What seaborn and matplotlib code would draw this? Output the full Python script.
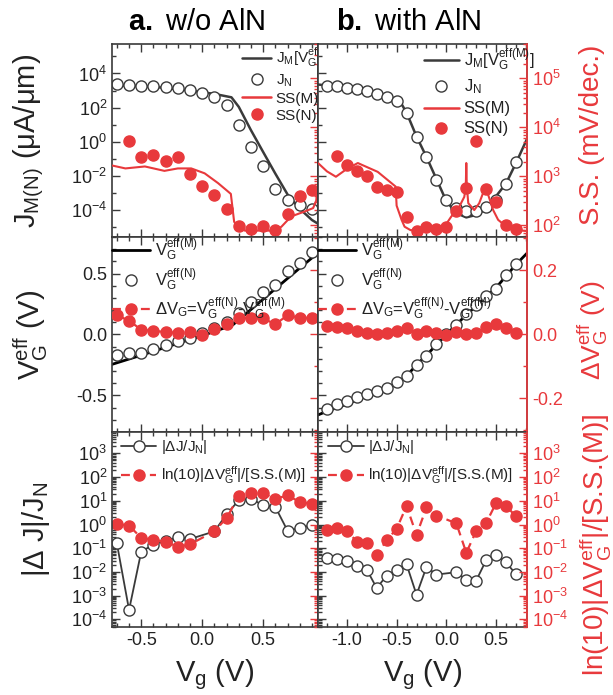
import numpy as np
import matplotlib
matplotlib.use("Agg")
import matplotlib.pyplot as plt
import matplotlib.ticker as ticker
from matplotlib.lines import Line2D
import seaborn as sns

# ---------------- data ----------------
# gate voltages (V)
vg_a = [-0.7, -0.6, -0.5, -0.4, -0.3, -0.2, -0.1, 0.0, 0.1, 0.2, 0.3, 0.4, 0.5, 0.6, 0.7, 0.8, 0.9]
vg_b = [-1.2, -1.1, -1.0, -0.9, -0.8, -0.7, -0.6, -0.5, -0.4, -0.3, -0.2, -0.1, 0.0,
        0.1, 0.2, 0.3, 0.4, 0.5, 0.6, 0.7]

# top row: current (log10 uA/um) and S.S. (log10 mV/dec)
jn_a_log = [3.37, 3.35, 3.29, 3.25, 3.2, 3.12, 3.02, 2.88, 2.63, 2.14, 1.0, -0.31, -1.45,
            -2.8, -3.45, -3.73, -3.94]
jm_a_vg = [-0.74, -0.4, -0.1, 0.1, 0.24, 0.3, 0.4, 0.5, 0.6, 0.7, 0.8, 0.9, 0.95]
jm_a_log = [3.33, 3.22, 3.0, 2.8, 2.6, 2.04, 0.67, -0.61, -1.88, -3.1, -3.94, -4.6, -4.82]
ssn_a_vg = [-0.6, -0.5, -0.4, -0.3, -0.2, -0.1, 0.0, 0.1, 0.2, 0.3, 0.4, 0.5, 0.6, 0.7, 0.8, 0.9]
ssn_a_log = [3.71, 3.39, 3.43, 3.32, 3.39, 3.05, 2.80, 2.62, 2.33, 1.99, 1.92, 1.99, 1.90,
             2.23, 2.60, 2.71]
ssm_a_vg = [-0.74, -0.63, -0.47, -0.31, -0.2, -0.09, 0.02, 0.13, 0.235, 0.262, 0.295, 0.35,
            0.6, 0.65, 0.73, 0.84, 0.91, 0.935, 0.95]
ssm_a_log = [3.22, 3.16, 3.20, 3.11, 3.16, 3.16, 3.06, 2.86, 2.64, 2.07, 1.97, 1.89,
             1.89, 1.97, 2.18, 2.28, 2.35, 2.5, 2.85]

jn_b_log = [3.29, 3.24, 3.16, 3.06, 2.96, 2.81, 2.61, 2.41, 1.66, 0.25, -0.92, -2.24, -3.41,
            -3.9, -4.1, -4.1, -3.86, -3.4, -2.49, -1.22]
jm_b_vg = [-1.29, -1.2, -1.0, -0.8, -0.6, -0.5, -0.45, -0.4, -0.3, -0.2, -0.1, 0.0, 0.1,
           0.2, 0.3, 0.4, 0.5, 0.6, 0.7, 0.81]
jm_b_log = [3.35, 3.3, 3.18, 2.98, 2.7, 2.45, 2.2, 1.7, 0.3, -0.9, -2.2, -3.5, -4.2,
            -4.45, -4.3, -3.95, -3.2, -2.45, -1.25, 0.16]
ssn_b_vg = vg_b[1:]
ssn_b_log = [3.41, 3.22, 3.11, 3.01, 2.79, 2.72, 2.67, 2.16, 1.89, 1.97, 1.92, 1.97, 2.30,
             2.77, 3.71, 2.73, 2.48, 2.01, 1.92]
ssm_b_vg = [-1.29, -1.2, -1.11, -1.0, -0.89, -0.69, -0.51, -0.5, -0.45, -0.42, -0.36, -0.1,
            -0.02, 0.05, 0.13, 0.18, 0.195, 0.2, 0.205, 0.22, 0.28, 0.33, 0.38, 0.4, 0.42,
            0.47, 0.52, 0.58, 0.72, 0.81]
ssm_b_log = [3.27, 3.1, 2.99, 3.15, 3.27, 3.09, 2.79, 2.4, 2.11, 1.97, 1.90, 1.89,
             1.97, 2.18, 2.38, 2.58, 2.8, 3.27, 2.8, 2.45, 2.31, 2.45, 2.72, 2.76, 2.62,
             2.31, 2.11, 2.01, 1.90, 1.88]

# middle row: effective gate voltage (V) and its difference (V)
veffn_a = [-0.167, -0.151, -0.151, -0.118, -0.088, -0.055, -0.027, 0.01, 0.05, 0.10, 0.18,
           0.27, 0.35, 0.41, 0.52, 0.59, 0.68]
veffm_a_vg = [-0.74, -0.5, -0.3, -0.1, 0.0, 0.1, 0.2, 0.25, 0.4, 0.5, 0.6, 0.7, 0.8, 0.95]
veffm_a = [-0.245, -0.17, -0.105, -0.04, -0.01, 0.025, 0.06, 0.078, 0.205, 0.29, 0.375,
           0.46, 0.545, 0.67]
dvg_a = [0.059, 0.042, 0.014, 0.01, 0.007, 0.004, 0.007, -0.003, 0.016, 0.031, 0.051,
         0.051, 0.049, 0.031, 0.059, 0.051, 0.051]

veffn_b = [-0.61, -0.568, -0.544, -0.516, -0.489, -0.467, -0.439, -0.393, -0.343, -0.247,
           -0.173, -0.082, 0.0, 0.082, 0.165, 0.239, 0.316, 0.376, 0.486, 0.577]
veffm_b_vg = [-1.29, -1.2, -1.0, -0.8, -0.6, -0.5, -0.4, -0.3, -0.2, -0.1, 0.0, 0.1, 0.2,
              0.3, 0.4, 0.5, 0.6, 0.7, 0.81]
veffm_b = [-0.66, -0.63, -0.57, -0.505, -0.45, -0.40, -0.34, -0.25, -0.17, -0.085, 0.0,
           0.082, 0.16, 0.235, 0.31, 0.385, 0.48, 0.575, 0.667]
dvg_b = [0.025, 0.022, 0.018, 0.011, 0.005, 0.0, 0.004, 0.01, 0.018, -0.001, 0.011, 0.004,
         -0.003, 0.007, 0.002, 0.003, 0.022, 0.032, 0.018, 0.004]

# bottom row: relative errors (log10), Vg = 0 has no point
vgr_a = [-0.7, -0.6, -0.5, -0.4, -0.3, -0.2, -0.1, 0.1, 0.2, 0.3, 0.4, 0.5, 0.6, 0.7, 0.8, 0.9]
dj_a_log = [-0.80, -3.60, -1.14, -0.85, -0.68, -0.54, -0.61, -0.29, 0.43, 1.02, 1.09, 0.81,
            0.74, -0.26, -0.15, -0.02]
ratio_a_log = [0.02, -0.05, -0.56, -0.66, -0.72, -0.94, -0.84, -0.28, 0.27, 1.2, 1.31, 1.31,
               1.08, 1.23, 0.95, 0.86]
vgr_b = [-1.2, -1.1, -1.0, -0.9, -0.8, -0.7, -0.6, -0.5, -0.4, -0.3, -0.2, -0.1,
         0.1, 0.2, 0.3, 0.4, 0.5, 0.6, 0.7]
dj_b_log = [-1.4, -1.45, -1.55, -1.75, -1.9, -2.68, -2.15, -1.92, -1.68, -2.96, -1.79, -2.11,
            -2.01, -2.33, -2.36, -1.5, -1.3, -1.6, -2.1]
ratio_b_log = [-0.23, -0.16, -0.27, -0.72, -0.77, -1.29, -0.66, -0.18, 0.78, -0.44, 0.72,
               0.38, 0.05, -1.19, -0.27, 0.07, 0.91, 0.78, 0.34]

# ---------------- style ----------------
sns.set_theme(style="ticks")
plt.rcParams["font.family"] = ["Liberation Sans", "DejaVu Sans"]
plt.rcParams["mathtext.fontset"] = "custom"
plt.rcParams["mathtext.rm"] = "Liberation Sans"
plt.rcParams["mathtext.it"] = "Liberation Sans:italic"
plt.rcParams["mathtext.bf"] = "Liberation Sans:bold"
plt.rcParams["axes.unicode_minus"] = False

RED = "#e8393c"
GREY = "#3a3a3a"
TXT = "#222222"
DASH = (0, (4, 2.5))
MS = 8


def p10(v):
    return np.power(10.0, v)


def line(ax, x, y, **kw):
    sns.lineplot(x=x, y=y, ax=ax, estimator=None, sort=False, legend=False, **kw)


def pts(ax, x, y, open_=False, **kw):
    if open_:
        kw.update(markerfacecolor="white", markeredgecolor=GREY, color=GREY)
    else:
        kw.update(markerfacecolor=RED, markeredgecolor=RED, color=RED)
    line(ax, x, y, marker="o", markersize=MS, markeredgewidth=1.0, **kw)


def log_fmt(step):
    def f(v, pos):
        if v <= 0:
            return ""
        e = int(round(np.log10(v)))
        if abs(np.log10(v) - e) > 1e-6 or e % step:
            return ""
        return r"$\mathregular{10^{%d}}$" % e
    return ticker.FuncFormatter(f)


fig = plt.figure(figsize=(6.13, 6.95), dpi=100)
W, H = 613.0, 695.0
col_x = {"a": (112, 206), "b": (318, 209)}
row_y = [(44, 193), (237, 195), (432, 195)]


def make(col, row):
    x0, w = col_x[col]
    y0, h = row_y[row]
    ax = fig.add_axes([x0 / W, 1 - (y0 + h) / H, w / W, h / H])
    ax.set_facecolor("white")
    tw = ax.twinx()
    for s in ax.spines.values():
        s.set_color(GREY)
        s.set_linewidth(1.2)
    for k in ("left", "top", "bottom"):
        tw.spines[k].set_visible(False)
    tw.spines["right"].set_color(RED if col == "b" else GREY)
    tw.spines["right"].set_linewidth(1.2)
    ax.tick_params(which="both", direction="in", top=True, right=False,
                   color=GREY, labelcolor=TXT, labelsize=13, width=1)
    ax.tick_params(which="major", length=6)
    ax.tick_params(which="minor", length=3)
    tw.tick_params(which="both", direction="in", color=RED, labelcolor=RED,
                   labelsize=13, width=1)
    tw.tick_params(which="major", length=6)
    tw.tick_params(which="minor", length=3)
    if col == "a":
        ax.set_xlim(-0.74, 0.95)
        tw.tick_params(labelright=False)
    else:
        ax.set_xlim(-1.29, 0.81)
        ax.tick_params(labelleft=False)
    ax.xaxis.set_major_locator(ticker.MultipleLocator(0.5))
    ax.xaxis.set_minor_locator(ticker.MultipleLocator(0.1))
    ax.xaxis.set_major_formatter(ticker.FormatStrFormatter("%.1f"))
    if row < 2:
        ax.tick_params(labelbottom=False)
    ax.set_xlabel("")
    ax.set_ylabel("")
    tw.set_ylabel("")
    return ax, tw


panels = {}
for r in range(3):
    for c in ("a", "b"):
        panels[(c, r)] = make(c, r)

# ---------------- top row ----------------
for c, vg, jn, jmx, jm, snx, sn, smx, sm in [
        ("a", vg_a, jn_a_log, jm_a_vg, jm_a_log, ssn_a_vg, ssn_a_log, ssm_a_vg, ssm_a_log),
        ("b", vg_b, jn_b_log, jm_b_vg, jm_b_log, ssn_b_vg, ssn_b_log, ssm_b_vg, ssm_b_log)]:
    ax, tw = panels[(c, 0)]
    line(ax, jmx, p10(jm), color=GREY, linewidth=1.8)
    pts(ax, vg, p10(jn), open_=True, linestyle="")
    line(tw, smx, p10(sm), color=RED, linewidth=1.5)
    pts(tw, snx, p10(sn), linestyle="")
    ax.set_yscale("log")
    ax.set_ylim(p10(-5.6), p10(5.73))
    ax.yaxis.set_major_locator(ticker.FixedLocator(p10(np.arange(-6, 7, 2))))
    ax.yaxis.set_minor_locator(ticker.FixedLocator(p10(np.arange(-5, 7, 2))))
    ax.yaxis.set_major_formatter(log_fmt(2))
    ax.yaxis.set_minor_formatter(ticker.NullFormatter())
    tw.set_yscale("log")
    tw.set_ylim(p10(1.76), p10(5.7))
    tw.yaxis.set_major_locator(ticker.LogLocator(base=10, numticks=10))
    tw.yaxis.set_minor_locator(ticker.LogLocator(base=10, subs=np.arange(2, 10), numticks=10))
    tw.yaxis.set_major_formatter(log_fmt(1))
    tw.yaxis.set_minor_formatter(ticker.NullFormatter())

top_handles = [Line2D([], [], color=GREY, lw=1.8),
               Line2D([], [], ls="", marker="o", mfc="white", mec=GREY, ms=MS),
               Line2D([], [], color=RED, lw=1.8),
               Line2D([], [], ls="", marker="o", mfc=RED, mec=RED, ms=MS)]
top_labels = [r"$\mathregular{J_M[V_G^{eff(M)}]}$", r"$\mathregular{J_N}$", "SS(M)", "SS(N)"]
panels[("a", 0)][1].legend(top_handles, top_labels, loc="upper left",
                           bbox_to_anchor=(0.595, 1.03), frameon=False, fontsize=11,
                           borderpad=0, handlelength=1.9, handletextpad=0.3,
                           labelspacing=0.2, labelcolor=TXT)
panels[("b", 0)][1].legend(top_handles, top_labels, loc="upper left",
                           bbox_to_anchor=(0.465, 1.03), frameon=False, fontsize=12,
                           borderpad=0, handlelength=2.1, handletextpad=0.3,
                           labelspacing=0.3, labelcolor=TXT)

# ---------------- middle row ----------------
for c, vg, vn, vmx, vm, dv in [("a", vg_a, veffn_a, veffm_a_vg, veffm_a, dvg_a),
                               ("b", vg_b, veffn_b, veffm_b_vg, veffm_b, dvg_b)]:
    ax, tw = panels[(c, 1)]
    line(ax, vmx, vm, color="black", linewidth=2)
    pts(ax, vg, vn, open_=True, linestyle="")
    pts(tw, vg, dv, linestyle=DASH, linewidth=1.6)
    ax.set_ylim(-0.8, 0.8)
    ax.yaxis.set_major_locator(ticker.MultipleLocator(0.5))
    ax.yaxis.set_minor_locator(ticker.MultipleLocator(0.1))
    ax.yaxis.set_major_formatter(ticker.FormatStrFormatter("%.1f"))
    tw.set_ylim(-0.305, 0.303)
    tw.yaxis.set_major_locator(ticker.MultipleLocator(0.2))
    tw.yaxis.set_minor_locator(ticker.MultipleLocator(0.1))
    tw.yaxis.set_major_formatter(ticker.FormatStrFormatter("%.1f"))

mid_handles = [Line2D([], [], color="black", lw=2),
               Line2D([], [], ls="", marker="o", mfc="white", mec=GREY, ms=MS),
               Line2D([], [], color=RED, lw=1.6, ls=DASH, marker="o", mfc=RED, mec=RED, ms=MS)]
mid_labels = [r"$\mathregular{V_G^{eff(M)}}$", r"$\mathregular{V_G^{eff(N)}}$",
              r"Δ$\mathregular{V_G}$=$\mathregular{V_G^{eff(N)}}$-$\mathregular{V_G^{eff(M)}}$"]
for c in ("a", "b"):
    panels[(c, 1)][1].legend(mid_handles, mid_labels, loc="upper left",
                             bbox_to_anchor=(0.0, 1.0), frameon=False, fontsize=12,
                             borderpad=0, borderaxespad=0, handlelength=2.3,
                             handletextpad=0.3, labelspacing=0.2, labelcolor=TXT,
                             numpoints=1)

# ---------------- bottom row ----------------
for c, x, dj, rt in [("a", vgr_a, dj_a_log, ratio_a_log), ("b", vgr_b, dj_b_log, ratio_b_log)]:
    ax, tw = panels[(c, 2)]
    pts(ax, x, p10(dj), open_=True, linestyle="-", linewidth=1.3)
    pts(ax, x, p10(rt), linestyle=DASH, linewidth=1.6)
    for a in (ax, tw):
        a.set_yscale("log")
        a.set_ylim(p10(-4.32), p10(3.9))
        a.yaxis.set_major_locator(ticker.LogLocator(base=10, numticks=12))
        a.yaxis.set_minor_locator(ticker.LogLocator(base=10, subs=np.arange(2, 10), numticks=12))
        a.yaxis.set_major_formatter(log_fmt(1))
        a.yaxis.set_minor_formatter(ticker.NullFormatter())
    ax.set_xlabel(r"$\mathregular{V_g}$ (V)", fontsize=21, color=TXT, labelpad=6)

ratio_text = r"ln(10)|Δ$\mathregular{V_G^{eff}}$|/[S.S.(M)]"
bot_handles = [Line2D([], [], color=GREY, lw=1.3, marker="o", mfc="white", mec=GREY, ms=MS),
               Line2D([], [], color=RED, lw=1.6, ls=DASH, marker="o", mfc=RED, mec=RED, ms=MS)]
bot_labels = [r"|ΔJ/$\mathregular{J_N}$|", ratio_text]
for c, bx in (("a", 0.045), ("b", 0.05)):
    panels[(c, 2)][1].legend(bot_handles, bot_labels, loc="upper left",
                             bbox_to_anchor=(bx, 0.97), frameon=False, fontsize=11,
                             borderpad=0, borderaxespad=0, handlelength=2.3,
                             handletextpad=0.3, labelspacing=0.55, labelcolor=TXT,
                             numpoints=1)

# ---------------- axis titles ----------------
lab = dict(fontsize=21, color=TXT)
axA0, axA1, axA2 = panels[("a", 0)][0], panels[("a", 1)][0], panels[("a", 2)][0]
axA0.set_ylabel(r"$\mathregular{J_{M(N)}}$ (μA/μm)", **lab)
axA0.yaxis.set_label_coords(-0.32, 0.5)
axA1.set_ylabel(r"$\mathregular{V_G^{eff}}$ (V)", **lab)
axA1.yaxis.set_label_coords(-0.30, 0.5)
axA2.set_ylabel(r"|Δ J|/$\mathregular{J_N}$", **lab)
axA2.yaxis.set_label_coords(-0.29, 0.5)

twB0, twB1, twB2 = panels[("b", 0)][1], panels[("b", 1)][1], panels[("b", 2)][1]
twB0.set_ylabel("S.S. (mV/dec.)", fontsize=20, color=RED)
twB0.yaxis.set_label_coords(1.25, 0.53)
twB1.set_ylabel(r"Δ$\mathregular{V_G^{eff}}$ (V)", fontsize=19, color=RED)
twB1.yaxis.set_label_coords(1.235, 0.52)
twB2.set_ylabel(ratio_text, fontsize=20, color=RED)
twB2.yaxis.set_label_coords(1.24, 0.42)

fig.text(197 / W, 1 - 22 / H, r"$\mathbf{a.}$ w/o AlN", ha="center", va="center",
         fontsize=21, color="black")
fig.text(409 / W, 1 - 22 / H, r"$\mathbf{b.}$ with AlN", ha="center", va="center",
         fontsize=21, color="black")

fig.savefig("out.png", dpi=100)
